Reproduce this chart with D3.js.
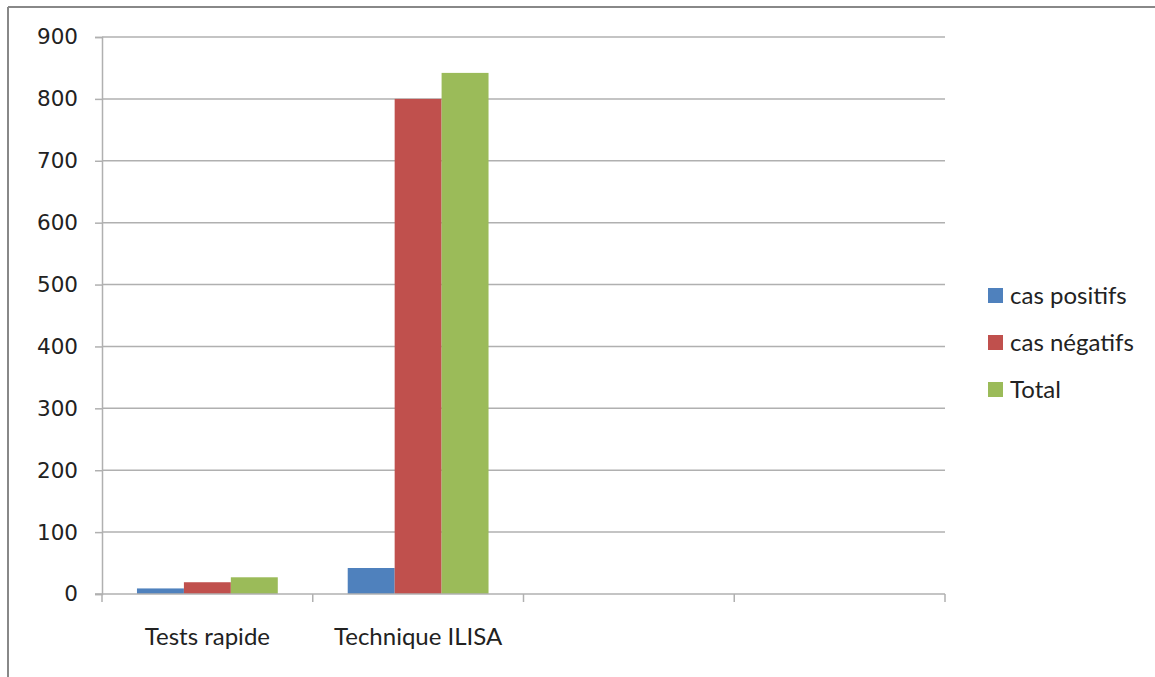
<!DOCTYPE html>
<html>
<head>
<meta charset="utf-8">
<script src="https://cdn.jsdelivr.net/npm/d3@7/dist/d3.min.js"></script>
<style>
  html, body { margin: 0; padding: 0; background: #fff; }
  svg { display: block; }
</style>
</head>
<body>
<svg id="chart" width="1155" height="677"></svg>
<script>
// Categories (the last two slots are empty in the source sheet)
const categories = ["Tests rapide", "Technique ILISA", "", ""];
const seriesNames = ["cas positifs", "cas négatifs", "Total"];
const seriesColors = ["#4f81bd", "#c0504d", "#9bbb59"];
const casPositifs = [9, 42, null, null];
const casNegatifs = [19, 800, null, null];
const total = [27, 842, null, null];
const yTicks = [0, 100, 200, 300, 400, 500, 600, 700, 800, 900];

const seriesValues = [casPositifs, casNegatifs, total];

const svg = d3.select("#chart");
const W = 1155, H = 677;

// outer frame (only left and top edges visible)
svg.append("line").attr("x1", 8).attr("x2", 8).attr("y1", 7).attr("y2", H)
  .attr("stroke", "#888").attr("stroke-width", 2);
svg.append("line").attr("x1", 8).attr("x2", W).attr("y1", 7).attr("y2", 7)
  .attr("stroke", "#888").attr("stroke-width", 2);

const plot = { left: 102, right: 945, top: 37, bottom: 594 };

const x0 = d3.scaleBand().domain(d3.range(categories.length))
  .range([plot.left, plot.right]).paddingInner(0).paddingOuter(0);
const x1 = d3.scaleBand().domain(d3.range(seriesNames.length))
  .range([0, x0.bandwidth()]).paddingOuter(0.745).paddingInner(0);
const y = d3.scaleLinear().domain([0, 900]).range([plot.bottom, plot.top]);

const grid = "#b0b0b0";

// horizontal gridlines
svg.append("g").selectAll("line").data(yTicks.filter(d => d > 0)).join("line")
  .attr("x1", plot.left).attr("x2", plot.right)
  .attr("y1", d => y(d)).attr("y2", d => y(d))
  .attr("stroke", grid).attr("stroke-width", 1.5);

// bars
const groups = svg.append("g").selectAll("g").data(d3.range(categories.length)).join("g")
  .attr("transform", i => `translate(${x0(i)},0)`);
groups.selectAll("rect")
  .data(i => seriesValues.map((vals, s) => ({ s, v: vals[i] })).filter(d => d.v != null))
  .join("rect")
  .attr("x", d => x1(d.s))
  .attr("width", x1.bandwidth())
  .attr("y", d => y(d.v))
  .attr("height", d => y(0) - y(d.v))
  .attr("fill", d => seriesColors[d.s]);

// y axis
const yAxis = d3.axisLeft(y).tickValues(yTicks).tickSize(7).tickPadding(17);
const ya = svg.append("g").attr("transform", `translate(${plot.left},0)`).call(yAxis);
ya.select(".domain").attr("stroke", grid).attr("stroke-width", 1.5);
ya.selectAll(".tick line").attr("stroke", grid).attr("stroke-width", 1.5);
ya.selectAll("text").attr("font-family", "DejaVu Sans, sans-serif")
  .attr("font-size", 21.5).attr("fill", "#222");

// x axis (ticks at category boundaries)
svg.append("line").attr("x1", plot.left - 7).attr("x2", plot.right)
  .attr("y1", plot.bottom).attr("y2", plot.bottom)
  .attr("stroke", grid).attr("stroke-width", 1.5);
const bounds = d3.range(categories.length + 1).map(i => plot.left + i * x0.bandwidth());
svg.append("g").selectAll("line").data(bounds).join("line")
  .attr("x1", d => d).attr("x2", d => d)
  .attr("y1", plot.bottom).attr("y2", plot.bottom + 8)
  .attr("stroke", grid).attr("stroke-width", 1.5);
svg.append("g").selectAll("text").data(d3.range(categories.length)).join("text")
  .attr("x", i => x0(i) + x0.bandwidth() / 2)
  .attr("y", 645)
  .attr("text-anchor", "middle")
  .attr("font-family", "Lato, sans-serif").attr("font-size", 24).attr("fill", "#222")
  .text(i => categories[i]);

// legend
const legend = svg.append("g").selectAll("g").data(seriesNames).join("g")
  .attr("transform", (d, i) => `translate(988,${296 + i * 47})`);
legend.append("rect").attr("x", 0).attr("y", -8).attr("width", 15).attr("height", 15)
  .attr("fill", (d, i) => seriesColors[i]);
legend.append("text").attr("x", 22).attr("y", 8)
  .attr("font-family", "Lato, sans-serif").attr("font-size", 24).attr("fill", "#222")
  .text(d => d);
</script>
</body>
</html>
